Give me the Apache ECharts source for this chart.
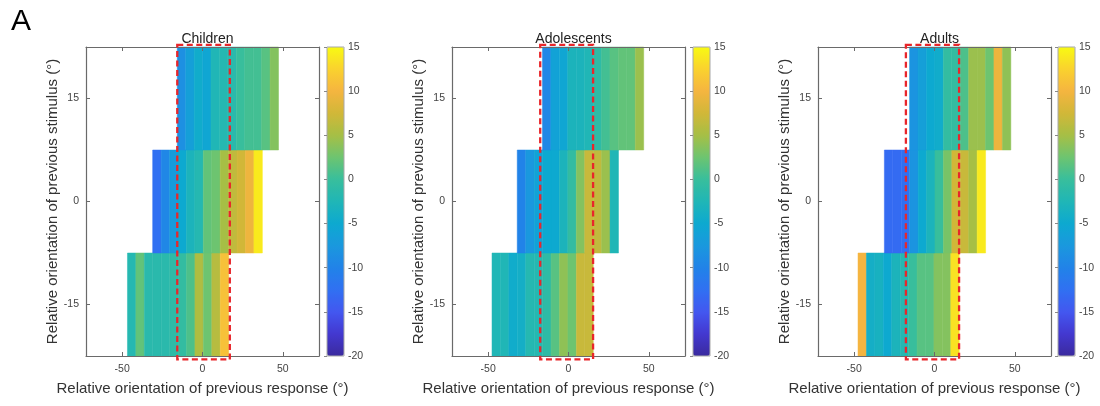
<!DOCTYPE html>
<html>
<head>
<meta charset="utf-8">
<script src="https://cdn.jsdelivr.net/npm/echarts@6/dist/echarts.min.js"></script>
<style>
  html, body { margin: 0; padding: 0; background: #fff; }
  #chart { width: 1100px; height: 406px; }
</style>
</head>
<body>
<div id="chart"></div>
<script>
// data
const panelNames = ['Children', 'Adolescents', 'Adults'];
const stimBins = [-15, 0, 15];       // row centres, bottom -> top
const stimHalf = 7.5;                // half row height
const binWidth = 5.25;               // response bin width

const xTicks = [-50, 0, 50];
const yTicks = [-15, 0, 15];
const xRange = [-72.5, 72.5];
const yRange = [-22.5, 22.5];
const cbRange = [-20, 15];

// first bin edge of each row (bottom, middle, top)
const childrenStart = [-46.7, -31, -15.7];
const adolescentsStart = [-47.6, -31.9, -16.2];
const adultsStart = [-47.6, -31.2, -15.5];

const childrenBottom = [-2, 2, -1.5, -1.5, -1.5, -1, -0.5, 1, 5.5, 2.5, 6, 11];
const childrenMid = [-12.5, -9.5, -7, -5, -3, -2, 2, 2.5, 5, 6.5, 7.5, 9.5, 14];
const childrenTop = [-8.5, -6.5, -4.5, -5.5, -2.5, -2, -1.5, 0, 0.5, 0.5, 1.5, 3.5];

const adolescentsBottom = [-2.5, -2.5, -4.5, -4, -2, -2, -1, 1.5, 4, 2.5, 7, 7];
const adolescentsMid = [-10, -7.5, -6, -5, -5, -3, -0.5, 3.5, 7, 6.5, 4.5, -2.5];
const adolescentsTop = [-9.5, -6, -5.5, -3, -3, -2.5, -1, 0.5, 1.5, 2, 2, 4.5];

const adultsBottom = [10, -4, -3.5, -5, -3, -2, 0, 1.5, 1.5, 3.5, 3.5, 13.5];
const adultsMid = [-13, -13, -12.5, -8, -5, -3, 0, 3, 7.5, 7, 5, 14];
const adultsTop = [-8, -6.5, -5, -4.5, -0.5, -0.5, 1, 4.5, 4.5, 2.5, 9.5, 4];

// dashed window [x0, x1, y0, y1]
const childrenBox = [-15.7, 17, -23, 22.8];
const adolescentsBox = [-17.6, 15.3, -23, 22.8];
const adultsBox = [-17.8, 15.3, -23, 22.8];

const parula = ['#3A2A9E', '#4338D0', '#4357F0', '#3070F2', '#2183E8', '#1A98DE', '#0DA9D0',
  '#20B6B6', '#38BE9C', '#6DC470', '#A6BF45', '#D1B738', '#F5B540', '#FAD22E', '#F8FA12'];

const panels = [
  { starts: childrenStart, rows: [childrenBottom, childrenMid, childrenTop], box: childrenBox },
  { starts: adolescentsStart, rows: [adolescentsBottom, adolescentsMid, adolescentsTop], box: adolescentsBox },
  { starts: adultsStart, rows: [adultsBottom, adultsMid, adultsTop], box: adultsBox }
];

// layout
const gridLeft = [86, 452, 818];
const gridWidth = 233;
const gridTop = 47;
const gridHeight = 309;
const cbLeft = [327, 693, 1058];
const cbWidth = 17;
const axisGray = '#6a6a6a';
const labelGray = '#444';
const font = 'Liberation Sans, Arial, sans-serif';

function buildCells(p) {
  const cells = [];
  p.rows.forEach((vals, r) => {
    vals.forEach((v, k) => {
      const x0 = p.starts[r] + k * binWidth;
      cells.push([x0, x0 + binWidth, stimBins[r] - stimHalf, stimBins[r] + stimHalf, v]);
    });
  });
  return cells;
}

const grid = [], xAxis = [], yAxis = [], series = [], visualMap = [], title = [];

title.push({ text: 'A', left: 6, top: 2, textStyle: { fontSize: 30, fontWeight: 'normal', color: '#000', fontFamily: font } });

panels.forEach((p, i) => {
  grid.push({ left: gridLeft[i], top: gridTop, width: gridWidth, height: gridHeight });
  grid.push({ left: cbLeft[i], top: gridTop, width: cbWidth, height: gridHeight, show: true, z: 10,
    borderColor: '#a8a8a8', borderWidth: 1 });

  const line = { show: true, onZero: false, lineStyle: { color: axisGray, width: 1.2 } };
  const tick = { show: true, inside: true, length: 4, customValues: xTicks, lineStyle: { color: axisGray } };
  const ytick = { show: true, inside: true, length: 4, customValues: yTicks, lineStyle: { color: axisGray } };

  xAxis.push({
    gridIndex: 2 * i, type: 'value', min: xRange[0], max: xRange[1], position: 'bottom', z: 5,
    axisLine: line, axisTick: tick, splitLine: { show: false },
    axisLabel: { customValues: xTicks, color: labelGray, fontSize: 10.5, margin: 8, fontFamily: font },
    name: 'Relative orientation of previous response (°)', nameLocation: 'middle', nameGap: 25,
    nameTextStyle: { fontSize: 15, color: '#333', fontFamily: font }
  });
  xAxis.push({
    gridIndex: 2 * i, type: 'value', min: xRange[0], max: xRange[1], position: 'top', z: 5,
    axisLine: line, axisTick: tick, splitLine: { show: false }, axisLabel: { show: false }
  });
  xAxis.push({
    gridIndex: 2 * i + 1, type: 'value', min: 0, max: 1, show: false
  });

  yAxis.push({
    gridIndex: 2 * i, type: 'value', min: yRange[0], max: yRange[1], position: 'left', z: 5,
    axisLine: line, axisTick: ytick, splitLine: { show: false },
    axisLabel: { customValues: yTicks, color: labelGray, fontSize: 10.5, margin: 7, fontFamily: font },
    name: 'Relative orientation of previous stimulus (°)', nameLocation: 'middle', nameGap: 24,
    nameTextStyle: { fontSize: 15, color: '#333', fontFamily: font }
  });
  yAxis.push({
    gridIndex: 2 * i, type: 'value', min: yRange[0], max: yRange[1], position: 'right', z: 5,
    axisLine: line, axisTick: ytick, splitLine: { show: false }, axisLabel: { show: false }
  });
  yAxis.push({
    gridIndex: 2 * i + 1, type: 'value', min: cbRange[0], max: cbRange[1], interval: 5, position: 'right', z: 11,
    axisLine: { show: false }, splitLine: { show: false },
    axisTick: { show: true, inside: true, length: 3, lineStyle: { color: '#888' } },
    axisLabel: { color: labelGray, fontSize: 10.5, margin: 4, fontFamily: font }
  });

  title.push({
    text: panelNames[i], left: gridLeft[i] + gridWidth / 2, top: 27, textAlign: 'center',
    textStyle: { fontSize: 14, fontWeight: 'normal', color: '#222', fontFamily: font }
  });

  const heatIndex = series.length;
  series.push({
    type: 'custom', xAxisIndex: 3 * i, yAxisIndex: 3 * i,
    data: buildCells(p),
    encode: { x: [0, 1], y: [2, 3] },
    renderItem: function (params, api) {
      const a = api.coord([api.value(0), api.value(3)]);
      const b = api.coord([api.value(1), api.value(2)]);
      const c = api.visual('color');
      return {
        type: 'rect',
        shape: { x: a[0], y: a[1], width: b[0] - a[0], height: b[1] - a[1] },
        style: { fill: c, stroke: c, lineWidth: 0.5 }
      };
    }
  });
  series.push({
    type: 'custom', xAxisIndex: 3 * i, yAxisIndex: 3 * i, clip: false, z: 8,
    data: [p.box],
    renderItem: function (params, api) {
      const a = api.coord([api.value(0), api.value(3)]);
      const b = api.coord([api.value(1), api.value(2)]);
      return {
        type: 'rect',
        shape: { x: a[0], y: a[1], width: b[0] - a[0], height: b[1] - a[1] },
        style: { fill: 'none', stroke: '#E8262B', lineWidth: 2.3, lineDash: [6, 3.5] }
      };
    }
  });

  visualMap.push({
    type: 'continuous', min: cbRange[0], max: cbRange[1], dimension: 4, seriesIndex: heatIndex,
    calculable: false, hoverLink: false, inRange: { color: parula },
    orient: 'vertical', itemWidth: cbWidth, itemHeight: gridHeight,
    left: cbLeft[i], top: gridTop, padding: 0, text: null, showLabel: false
  });
});

const chart = echarts.init(document.getElementById('chart'), null, { renderer: 'canvas' });
chart.setOption({ animation: false, backgroundColor: '#fff', title, grid, xAxis, yAxis, visualMap, series });
</script>
</body>
</html>
